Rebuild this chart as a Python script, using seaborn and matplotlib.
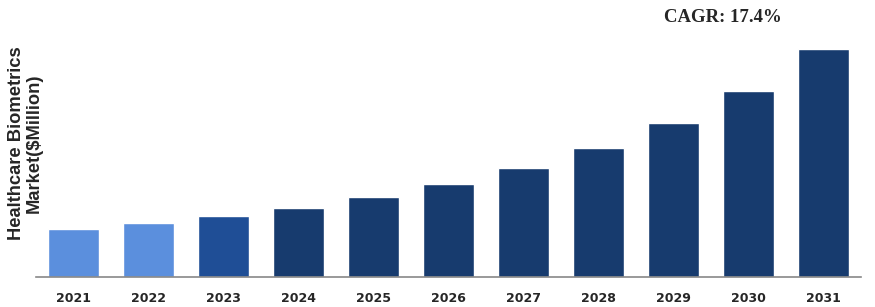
import matplotlib
matplotlib.use("Agg")
import matplotlib.pyplot as plt
import seaborn as sns
import pandas as pd

years = ["2021", "2022", "2023", "2024", "2025", "2026", "2027", "2028", "2029", "2030", "2031"]
values = [48, 54, 61, 69, 80, 93, 109, 129, 154, 186, 228]
colors = ["#5B8FDD", "#5B8FDD", "#1F4E96", "#173B6E", "#173B6E", "#173B6E",
          "#173B6E", "#173B6E", "#173B6E", "#173B6E", "#173B6E"]

sns.set_style("white")
df = pd.DataFrame({"year": years, "value": values})

fig = plt.figure(figsize=(8.75, 3.07), dpi=100)
ax = fig.add_axes([36 / 875, 30 / 307, 825 / 875, 257 / 307])
sns.barplot(data=df, x="year", y="value", hue="year", palette=colors,
            legend=False, width=0.667, saturation=1, ax=ax)
ax.set_xlim(-0.5, 10.5)
ax.set_ylim(0, 257)
ax.set_yticks([])
ax.set_xlabel("")
ax.set_ylabel("")
for s in ["top", "right", "left"]:
    ax.spines[s].set_visible(False)
ax.spines["bottom"].set_color("#888888")
ax.spines["bottom"].set_linewidth(1.2)
ax.tick_params(axis="x", length=0, pad=11)
for lbl in ax.get_xticklabels():
    lbl.set_fontweight("bold")
    lbl.set_fontsize(9)
    lbl.set_family("DejaVu Sans")
fig.text(25 / 875, 1 - 143 / 307, "Healthcare Biometrics\nMarket($Million)",
         rotation=90, ha="center", va="center", multialignment="center",
         fontsize=13.2, fontweight="bold", family="Liberation Sans", linespacing=1.05)
fig.text(723 / 875, 1 - 18 / 307, "CAGR: 17.4%", ha="center", va="center",
         fontsize=13.5, fontweight="bold", family="Liberation Serif")
fig.savefig("out.png", dpi=100)
